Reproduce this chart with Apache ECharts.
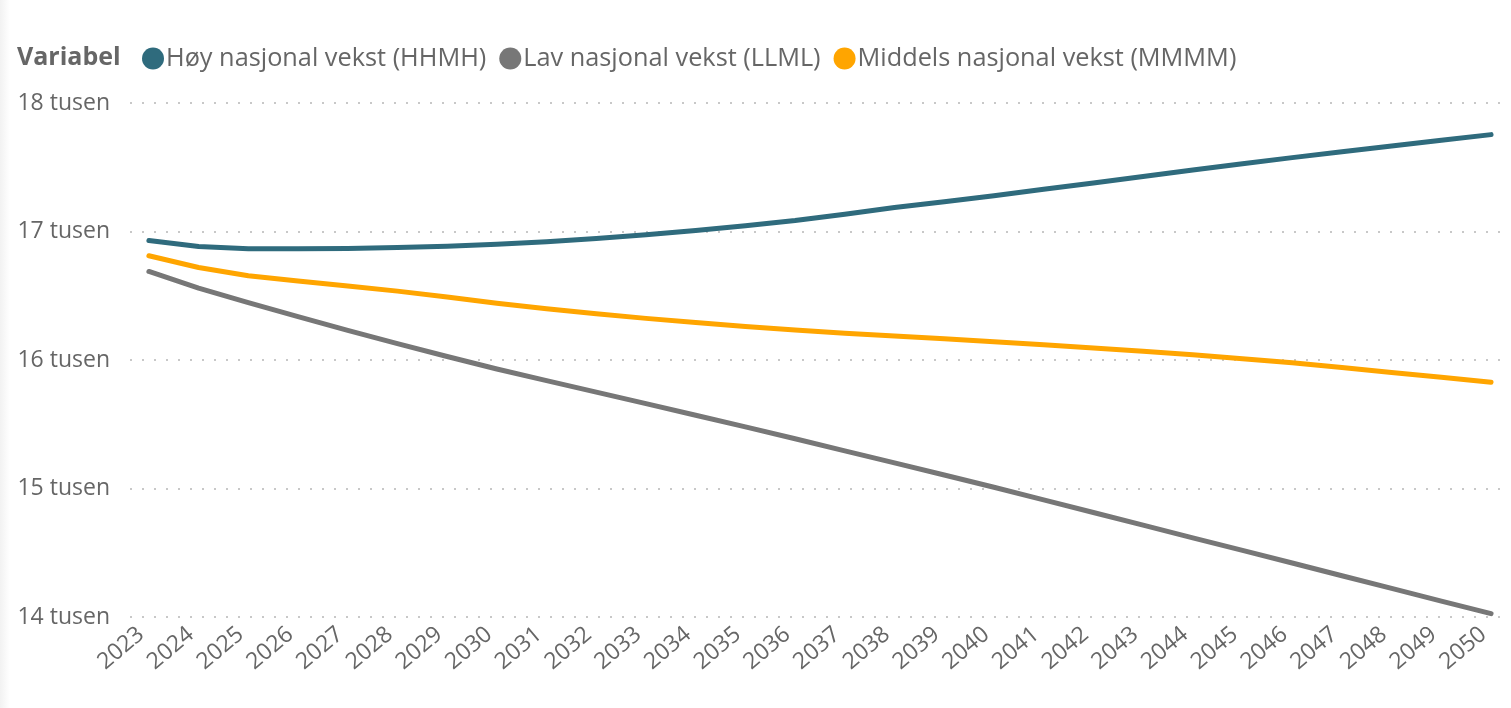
<!DOCTYPE html>
<html>
<head>
<meta charset="utf-8">
<script src="https://cdn.jsdelivr.net/npm/echarts@6/dist/echarts.min.js"></script>
<style>
  html, body { margin: 0; padding: 0; background: #fff; }
  #chart { width: 1511px; height: 708px; }
  #wrap { position: relative; width: 1511px; height: 708px; }
  #edge { position: absolute; left: 0; top: 0; width: 10px; height: 708px;
    background: linear-gradient(to right, #f2f2f2, #ffffff); pointer-events: none; }
</style>
</head>
<body>
<div id="wrap">
  <div id="chart"></div>
  <div id="edge"></div>
</div>
<script>
const years = [2023, 2024, 2025, 2026, 2027, 2028, 2029, 2030, 2031, 2032, 2033, 2034, 2035, 2036,
  2037, 2038, 2039, 2040, 2041, 2042, 2043, 2044, 2045, 2046, 2047, 2048, 2049, 2050]

const hoy = [16930, 16883, 16866, 16866, 16868, 16876, 16885, 16900, 16921, 16946, 16974, 17008, 17044, 17085,
  17135, 17186, 17232, 17279, 17328, 17378, 17428, 17478, 17527, 17575, 17620, 17665, 17710, 17754]

const lav = [16689, 16560, 16446, 16338, 16230, 16127, 16027, 15930, 15840, 15750, 15660, 15570, 15480, 15387,
  15293, 15199, 15105, 15010, 14912, 14813, 14715, 14616, 14518, 14420, 14321, 14223, 14124, 14026]

const middels = [16811, 16720, 16656, 16615, 16576, 16536, 16490, 16442, 16398, 16360, 16324, 16291, 16261, 16234,
  16209, 16187, 16166, 16142, 16118, 16093, 16068, 16040, 16010, 15978, 15941, 15903, 15865, 15827]

const seriesNames = ["Høy nasjonal vekst (HHMH)", "Lav nasjonal vekst (LLML)", "Middels nasjonal vekst (MMMM)"]
const colors = ["#2F6B7D", "#777777", "#FFA500"]
const yTicks = [14000, 15000, 16000, 17000, 18000]

const font = "'Open Sans', 'Noto Sans', sans-serif"
const pairs = arr => years.map((y, i) => [y, arr[i]])

const chart = echarts.init(document.getElementById("chart"))
chart.setOption({
  animation: false,
  textStyle: {fontFamily: font},
  title: {
    text: "Variabel",
    left: 12,
    top: 40,
    textStyle: {fontFamily: font, fontSize: 25, fontWeight: "bold", color: "#666666"}
  },
  legend: {
    left: 137,
    top: 41,
    icon: "circle",
    itemWidth: 22,
    itemHeight: 22,
    itemGap: 13,
    textStyle: {fontFamily: font, fontSize: 25.3, color: "#666666", padding: [0, 0, 0, -3]},
    data: seriesNames
  },
  grid: {left: 130, right: 11, top: 103, bottom: 91, containLabel: false},
  xAxis: {
    type: "value",
    min: 2022.62,
    max: 2050.18,
    axisLine: {show: false},
    axisTick: {show: false},
    splitLine: {show: false},
    axisLabel: {
      customValues: years,
      rotate: 40,
      margin: 8,
      padding: [0, 10, 0, 0],
      fontSize: 23,
      color: "#666666",
      fontFamily: font,
      formatter: v => String(v)
    }
  },
  yAxis: {
    type: "value",
    min: 14000,
    max: 18000,
    interval: 1000,
    axisLine: {show: false},
    axisTick: {show: false},
    axisLabel: {
      fontSize: 23,
      color: "#666666",
      fontFamily: font,
      margin: 20,
      formatter: v => yTicks.includes(v) ? (v / 1000) + " tusen" : ""
    },
    splitLine: {lineStyle: {color: "#C8C8C8", width: 2, type: [2, 10]}}
  },
  series: seriesNames.map((name, i) => ({
    name,
    type: "line",
    data: pairs([hoy, lav, middels][i]),
    showSymbol: false,
    symbol: "circle",
    color: colors[i],
    lineStyle: {width: 5, color: colors[i], cap: "round", join: "round"}
  }))
})
</script>
</body>
</html>
